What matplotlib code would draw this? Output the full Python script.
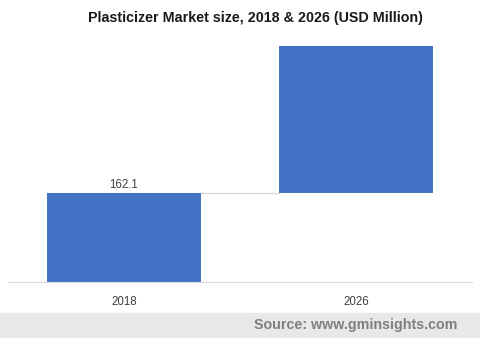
import matplotlib
matplotlib.use("Agg")
import matplotlib.pyplot as plt
from matplotlib.patches import Rectangle

# data
years = ["2018", "2026"]
start_vals = [0, 162.1]      # bar bottoms
end_vals = [162.1, 430]      # bar tops
label_2018 = "162.1"

blue = "#4472c4"
plt.rcParams['font.family'] = ['Liberation Sans', 'DejaVu Sans']

fig = plt.figure(figsize=(4.8, 3.38), dpi=100)
ax = fig.add_axes([8/480, (338-282)/338, 464/480, 236/338])

x = list(range(len(years)))
heights = [e - s for s, e in zip(start_vals, end_vals)]
w = 0.66
ax.bar(x, heights, bottom=start_vals, width=w, color=blue, zorder=2)

# connector between bars
ax.plot([x[0] + w/2, x[1] - w/2], [end_vals[0], end_vals[0]], color="#d9d9d9", lw=1, zorder=1)

ax.text(x[0], end_vals[0] + 4, label_2018, ha="center", va="bottom", fontsize=8.3, color="#404040")

ax.set_xlim(-0.5, 1.5)
ax.set_ylim(0, 430)
ax.set_xticks(x)
ax.set_xticklabels(years, fontsize=8.3, color="#404040")
ax.tick_params(axis="x", length=0, pad=10)
ax.set_yticks([])
for s in ["top", "right", "left"]:
    ax.spines[s].set_visible(False)
ax.spines["bottom"].set_color("#d9d9d9")

fig.text(255/480, 1 - 18/338, "Plasticizer Market size, 2018 & 2026 (USD Million)",
         ha="center", va="center", fontsize=10.3, fontweight="bold", color="#1a1a1a")

# footer band
fig.patches.append(Rectangle((0, 0), 1, 25/338, transform=fig.transFigure, color="#e8e8e8", zorder=0))
fig.text(457/480, 1 - 325/338, "Source: www.gminsights.com", ha="right", va="center",
         fontsize=10.3, fontweight="bold", color="#7f7f7f")

fig.savefig("out.png", dpi=100, facecolor="white")
